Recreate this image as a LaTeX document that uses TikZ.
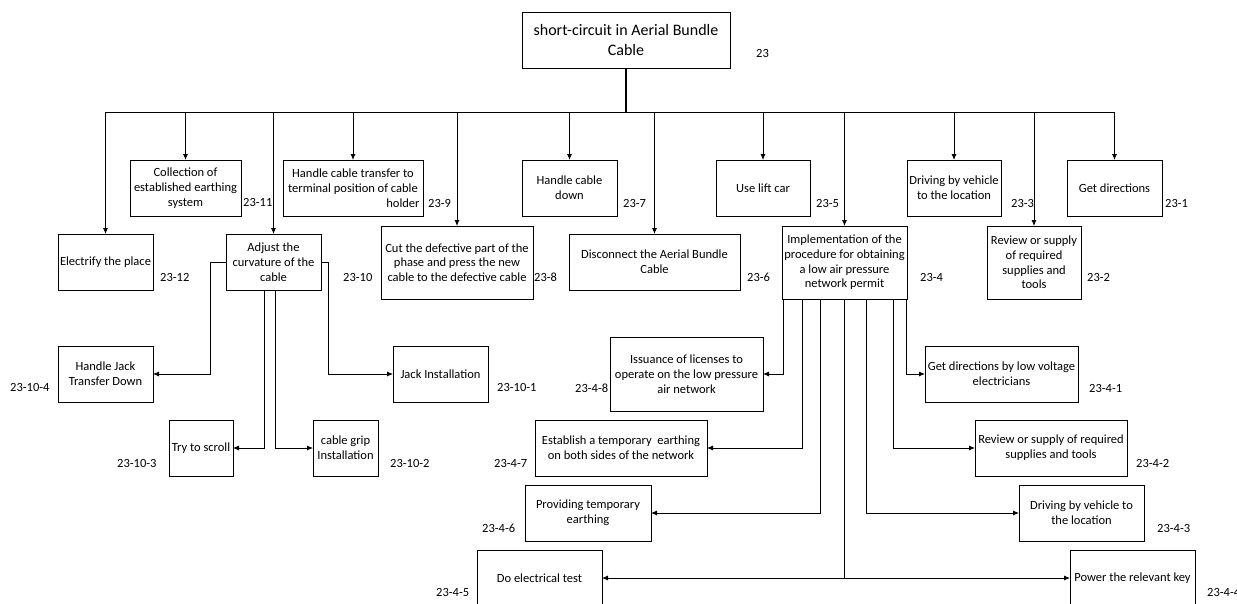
\documentclass[tikz,border=0pt]{standalone}
\usepackage{fontspec}
\setmainfont{Carlito}
\usetikzlibrary{arrows.meta}
\begin{document}
\begin{tikzpicture}[x=1pt,y=-1pt,
	box/.style={draw,line width=0.8pt,align=center,inner sep=0.5pt,outer sep=0pt,font=\fontsize{12.5}{14.7}\selectfont},
	num/.style={anchor=west,inner sep=0pt,font=\fontsize{12.5}{14.7}\selectfont},
	arr/.style={line width=0.8pt,-{Latex[length=6pt,width=5pt]}}]
	\useasboundingbox (0,0) rectangle (1237,603);
	\clip (0,0) rectangle (1237,603);
	\node [box,minimum width=208pt,minimum height=56pt,font=\fontsize{16}{19.5}\selectfont] (root) at (626,40) {short-circuit in Aerial Bundle\\Cable};
	\node [box,minimum width=111pt,minimum height=56pt] (collect) at (185.5,188) {Collection of\\established earthing\\system};
	\node [box,minimum width=140pt,minimum height=56pt] (transfer) at (353,188) {Handle cable transfer to\\terminal position of cable\\\hspace*{100pt}holder};
	\node [box,minimum width=95pt,minimum height=56pt] (down) at (569.5,188) {Handle cable\\down};
	\node [box,minimum width=94pt,minimum height=56pt] (lift) at (763,188) {Use lift car};
	\node [box,minimum width=94pt,minimum height=56pt] (drive) at (954,188) {Driving by vehicle\\to the location};
	\node [box,minimum width=95pt,minimum height=56pt] (getdir) at (1114.5,188) {Get directions};
	\node [box,minimum width=95pt,minimum height=56pt] (electrify) at (105.5,262) {Electrify the place};
	\node [box,minimum width=95pt,minimum height=56pt] (adjust) at (273.5,262) {Adjust the\\curvature of the\\cable};
	\node [box,minimum width=152pt,minimum height=73pt] (cut) at (457,262.5) {Cut the defective part of the\\phase and press the new\\cable to the defective cable};
	\node [box,minimum width=171pt,minimum height=56pt] (disconnect) at (654.5,262) {Disconnect the Aerial Bundle\\Cable};
	\node [box,minimum width=125pt,minimum height=73pt] (implement) at (844.5,262.5) {Implementation of the\\procedure for obtaining\\a low air pressure\\network permit};
	\node [box,minimum width=94pt,minimum height=73pt] (review) at (1034,262.5) {Review or supply\\of required\\supplies and\\tools};
	\node [box,minimum width=95pt,minimum height=56pt] (jackdown) at (105.5,374) {Handle Jack\\Transfer Down};
	\node [box,minimum width=95pt,minimum height=56pt] (jackinst) at (440.5,374) {Jack Installation};
	\node [box,minimum width=64pt,minimum height=56pt] (scroll) at (201,448) {Try to scroll};
	\node [box,minimum width=65pt,minimum height=56pt] (grip) at (345.5,448) {cable grip\\Installation};
	\node [box,minimum width=153pt,minimum height=74pt] (issue) at (686.5,374) {Issuance of licenses to\\operate on the low pressure\\air network};
	\node [box,minimum width=172pt,minimum height=56pt] (establish) at (621,448) {Establish a temporary~ earthing\\on both sides of the network};
	\node [box,minimum width=126pt,minimum height=56pt] (provide) at (588,513) {Providing temporary\\earthing};
	\node [box,minimum width=125pt,minimum height=56pt] (test) at (539.5,578) {Do electrical test};
	\node [box,minimum width=153pt,minimum height=56pt] (lvdir) at (1001.5,374) {Get directions by low voltage\\electricians};
	\node [box,minimum width=152pt,minimum height=56pt] (review2) at (1051,448) {Review or supply of required\\supplies and tools};
	\node [box,minimum width=125pt,minimum height=56pt] (drive2) at (1081.5,513) {Driving by vehicle to\\the location};
	\node [box,minimum width=125pt,minimum height=56pt] (key) at (1132.5,578) {Power the relevant key};
	\node [num] (n23) at (756,53) {23};
	\node [num] (n23-11) at (243,202) {23-11};
	\node [num] (n23-9) at (428,203) {23-9};
	\node [num] (n23-7) at (623,203) {23-7};
	\node [num] (n23-5) at (816,203) {23-5};
	\node [num] (n23-3) at (1011,203) {23-3};
	\node [num] (n23-1) at (1165,203) {23-1};
	\node [num] (n23-12) at (160,277) {23-12};
	\node [num] (n23-10) at (343,277) {23-10};
	\node [num] (n23-8) at (534,277) {23-8};
	\node [num] (n23-6) at (747,277) {23-6};
	\node [num] (n23-4) at (920,277) {23-4};
	\node [num] (n23-2) at (1087,277) {23-2};
	\node [num] (n23-10-4) at (10,387) {23-10-4};
	\node [num] (n23-10-1) at (497,387) {23-10-1};
	\node [num] (n23-10-3) at (117,463) {23-10-3};
	\node [num] (n23-10-2) at (390,463) {23-10-2};
	\node [num] (n23-4-8) at (575,388) {23-4-8};
	\node [num] (n23-4-7) at (494,463) {23-4-7};
	\node [num] (n23-4-6) at (482,528) {23-4-6};
	\node [num] (n23-4-5) at (436,592) {23-4-5};
	\node [num] (n23-4-1) at (1089,388) {23-4-1};
	\node [num] (n23-4-2) at (1136,463) {23-4-2};
	\node [num] (n23-4-3) at (1157,528) {23-4-3};
	\node [num] (n23-4-4) at (1207,592) {23-4-4};
	\coordinate (bus) at (626,112);
	\draw [line width=2pt] (root.south) -- (bus);
	\foreach \n in {electrify,collect,adjust,transfer,cut,down,disconnect,lift,implement,drive,review,getdir}
		\draw [arr] (bus) -| (\n.north);
	\draw [arr] (adjust.west) -- ++(-16,0) |- (jackdown.east);
	\draw [arr] (adjust.east) -- ++(7,0) |- (jackinst.west);
	\draw [arr] ([xshift=-9.5pt]adjust.south) |- (scroll.east);
	\draw [arr] ([xshift=1.5pt]adjust.south) |- (grip.west);
	\draw [arr] ([xshift=-61pt]implement.south) |- (issue.east);
	\draw [arr] ([xshift=-42.5pt]implement.south) |- (establish.east);
	\draw [arr] ([xshift=-24.5pt]implement.south) |- (provide.east);
	\draw [arr] (implement.south) |- (test.east);
	\draw [arr] (implement.south) |- (key.west);
	\draw [arr] ([xshift=21.5pt]implement.south) |- (drive2.west);
	\draw [arr] ([xshift=48.5pt]implement.south) |- (review2.west);
	\draw [arr] ([xshift=-0.5pt]implement.south east) |- (lvdir.west);
\end{tikzpicture}
\end{document}
